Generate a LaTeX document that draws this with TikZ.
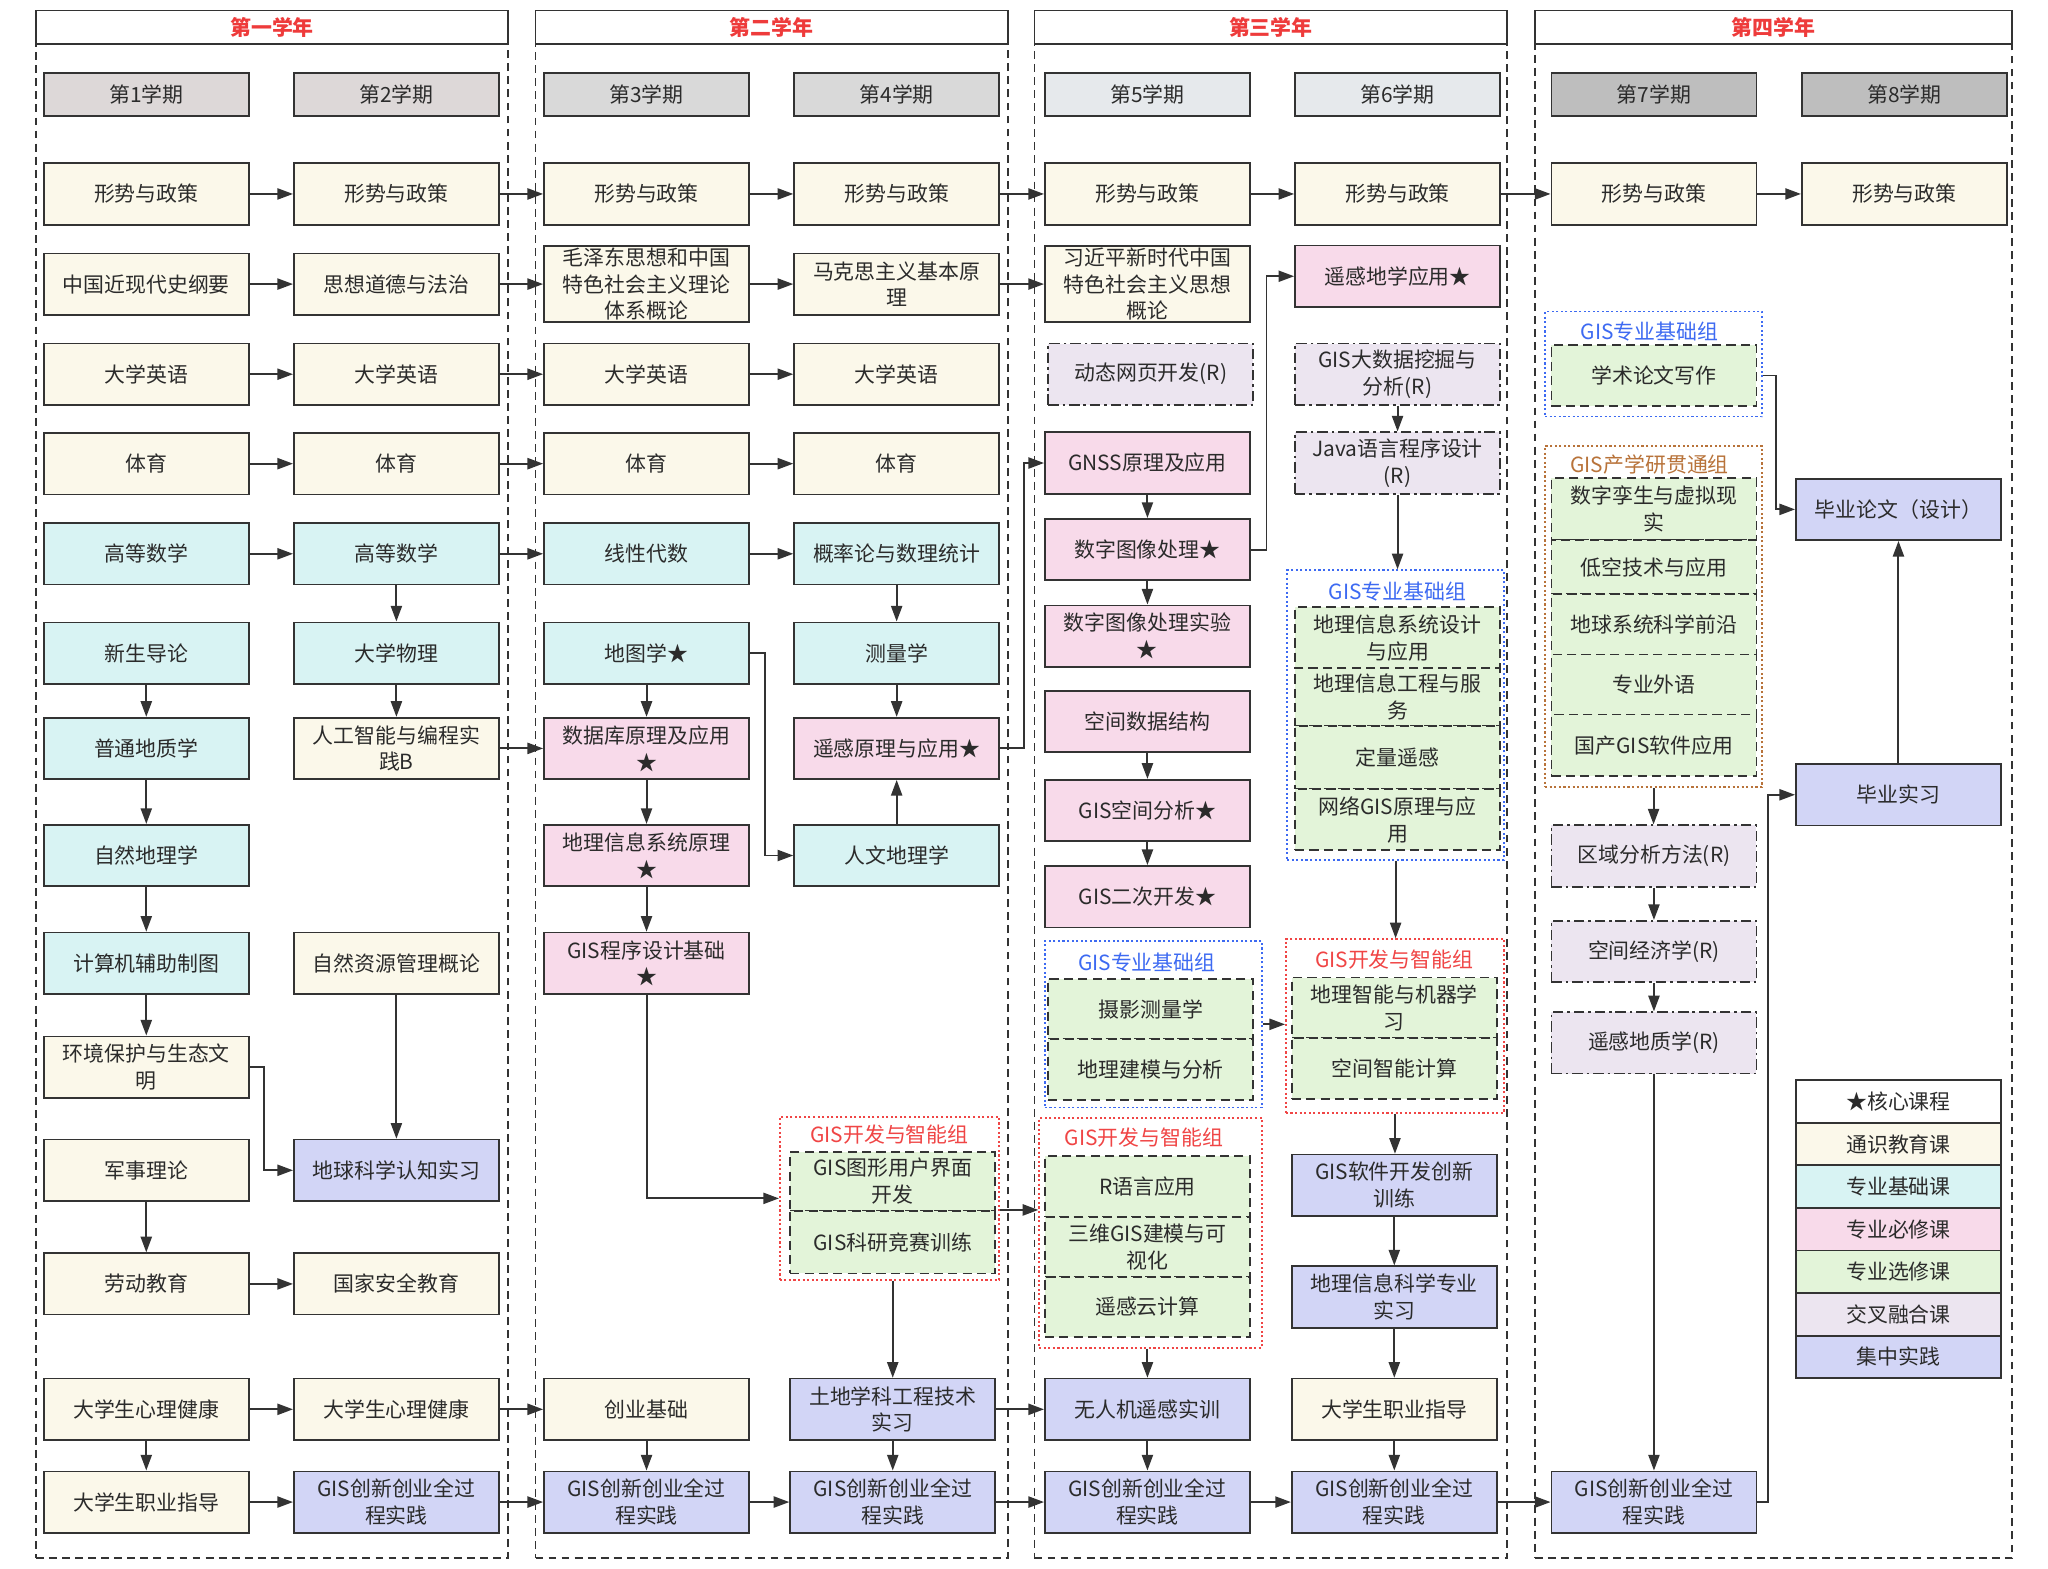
\documentclass[tikz,border=0pt]{standalone}
\usepackage{fontspec}
\setmainfont{Noto Sans CJK SC}
\usetikzlibrary{arrows.meta}
\definecolor{lc}{HTML}{333333}
\definecolor{tc}{HTML}{2B2B2B}
\definecolor{cgen}{HTML}{FBF8EA}
\definecolor{cbase}{HTML}{D8F3F3}
\definecolor{creq}{HTML}{F8DAEA}
\definecolor{cele}{HTML}{E3F4D9}
\definecolor{ccross}{HTML}{ECE5F0}
\definecolor{cprac}{HTML}{D2D5F6}
\definecolor{semA}{HTML}{DDD8D8}
\definecolor{semB}{HTML}{D9D9D9}
\definecolor{semC}{HTML}{E6E9EC}
\definecolor{semD}{HTML}{BEBEBE}
\definecolor{yred}{HTML}{EE3B3B}
\definecolor{gblue}{HTML}{3D6AF2}
\definecolor{gred}{HTML}{F04545}
\definecolor{gorg}{HTML}{B8733A}
\newcommand\myfs{\fontsize{16}{20.5}\selectfont}
\begin{document}
\begin{tikzpicture}[x=1pt,y=-1pt,
 bx/.style={draw=lc, line width=1.3pt, minimum width=157pt, minimum height=47pt, inner sep=0pt, align=center, font=\myfs, text=tc},
 gen/.style={bx, fill=cgen},
 base/.style={bx, fill=cbase},
 req/.style={bx, fill=creq},
 ele/.style={bx, fill=cele, dash pattern=on 7pt off 4pt},
 crs/.style={bx, fill=ccross, dash pattern=on 8pt off 3pt on 2pt off 3pt},
 prac/.style={bx, fill=cprac},
 sem/.style={bx, minimum height=33pt},
 yfr/.style={draw=lc, line width=1.3pt, dash pattern=on 6pt off 4pt, inner sep=0pt},
 yhd/.style={draw=lc, line width=1.3pt, fill=white, minimum height=25.5pt, inner sep=0pt, font=\myfs\bfseries, text=yred},
 grp/.style={line width=1.2pt, dash pattern=on 1.6pt off 1.9pt, inner sep=0pt},
 gtitle/.style={font=\myfs, inner sep=0pt},
 leg/.style={bx, minimum height=32.6pt},
 arr/.style={draw=lc, line width=1.5pt, -{Triangle[length=12pt,width=8.5pt]}},
]
\useasboundingbox (0,0) rectangle (1568,1201);
\fill[white] (0,0) rectangle (1568,1201);

% year frames
\node[yfr, minimum width=361.5pt, minimum height=1185pt] (f1) at (208.25,600.5) {};
\node[yfr, minimum width=361.5pt, minimum height=1185pt] (f2) at (590.75,600.5) {};
\node[yfr, minimum width=362pt, minimum height=1185pt] (f3) at (973,600.5) {};
\node[yfr, minimum width=365.5pt, minimum height=1185pt] (f4) at (1357.75,600.5) {};
\node[yhd, minimum width=361.5pt] (h1) at (208.25,20.75) {第一学年};
\node[yhd, minimum width=361.5pt] (h2) at (590.75,20.75) {第二学年};
\node[yhd, minimum width=362pt] (h3) at (973,20.75) {第三学年};
\node[yhd, minimum width=365.5pt] (h4) at (1357.75,20.75) {第四学年};

% semesters
\node[sem, fill=semA] (s1) at (112,72.5) {第1学期};
\node[sem, fill=semA] (s2) at (303.5,72.5) {第2学期};
\node[sem, fill=semB] (s3) at (495,72.5) {第3学期};
\node[sem, fill=semB] (s4) at (686.5,72.5) {第4学期};
\node[sem, fill=semC] (s5) at (878.5,72.5) {第5学期};
\node[sem, fill=semC] (s6) at (1070,72.5) {第6学期};
\node[sem, fill=semD] (s7) at (1266.3,72.5) {第7学期};
\node[sem, fill=semD] (s8) at (1458,72.5) {第8学期};

% row 1
\node[gen] (xs1) at (112,148.5) {形势与政策};
\node[gen] (xs2) at (303.5,148.5) {形势与政策};
\node[gen] (xs3) at (495,148.5) {形势与政策};
\node[gen] (xs4) at (686.5,148.5) {形势与政策};
\node[gen] (xs5) at (878.5,148.5) {形势与政策};
\node[gen] (xs6) at (1070,148.5) {形势与政策};
\node[gen] (xs7) at (1266.3,148.5) {形势与政策};
\node[gen] (xs8) at (1458,148.5) {形势与政策};

% row 2
\node[gen] (a21) at (112,217.5) {中国近现代史纲要};
\node[gen] (a22) at (303.5,217.5) {思想道德与法治};
\node[gen, minimum height=58pt] (a23) at (495,217.5) {毛泽东思想和中国\\特色社会主义理论\\体系概论};
\node[gen] (a24) at (686.5,217.5) {马克思主义基本原\\理};
\node[gen, minimum height=58pt] (a25) at (878.5,217.5) {习近平新时代中国\\特色社会主义思想\\概论};
\node[req] (ygdx) at (1070,211.5) {遥感地学应用★};

% row 3
\node[gen] (e1) at (112,286.5) {大学英语};
\node[gen] (e2) at (303.5,286.5) {大学英语};
\node[gen] (e3) at (495,286.5) {大学英语};
\node[gen] (e4) at (686.5,286.5) {大学英语};
\node[crs] (dtwy) at (881,286.5) {动态网页开发(R)};
\node[crs] (dsj) at (1070,286.5) {GIS大数据挖掘与\\分析(R)};

% row 4
\node[gen] (t1) at (112,355) {体育};
\node[gen] (t2) at (303.5,355) {体育};
\node[gen] (t3) at (495,355) {体育};
\node[gen] (t4) at (686.5,355) {体育};
\node[req] (gnss) at (878.5,354.5) {GNSS原理及应用};
\node[crs] (java) at (1070,354.5) {Java语言程序设计\\(R)};

% row 5
\node[base] (m1) at (112,424) {高等数学};
\node[base] (m2) at (303.5,424) {高等数学};
\node[base] (m3) at (495,424) {线性代数};
\node[base] (m4) at (686.5,424) {概率论与数理统计};
\node[req] (szt) at (878.5,420.75) {数字图像处理★};

% row 6
\node[base] (xsd) at (112,500) {新生导论};
\node[base] (dxwl) at (303.5,500) {大学物理};
\node[base] (dtx) at (495,500) {地图学★};
\node[base] (clx) at (686.5,500) {测量学};
\node[req] (szsy) at (878.5,487) {数字图像处理实验\\★};

% row 7
\node[base] (ptdz) at (112,573) {普通地质学};
\node[gen] (rgzn) at (303.5,573) {人工智能与编程实\\践B};
\node[req] (sjk) at (495,573) {数据库原理及应用\\★};
\node[req] (ygyl) at (686.5,573) {遥感原理与应用★};
\node[req] (kjsj) at (878.5,552.5) {空间数据结构};

% row 8
\node[base] (zrdl) at (112,655) {自然地理学};
\node[req] (gisyl) at (495,655) {地理信息系统原理\\★};
\node[base] (rwdl) at (686.5,655) {人文地理学};
\node[req] (kjfx) at (878.5,620.5) {GIS空间分析★};

% row 9
\node[base] (jsj) at (112,737.5) {计算机辅助制图};
\node[gen] (zrzy) at (303.5,737.5) {自然资源管理概论};
\node[req] (gcx) at (495,737.5) {GIS程序设计基础\\★};
\node[req] (ecfz) at (878.5,686.5) {GIS二次开发★};

% row 10-12
\node[gen] (hjbh) at (112,817) {环境保护与生态文\\明};
\node[gen] (jsll) at (112,896) {军事理论};
\node[prac] (dqrz) at (303.5,896) {地球科学认知实习};
\node[gen] (ldjy) at (112,983) {劳动教育};
\node[gen] (gjaq) at (303.5,983) {国家安全教育};

% row 13
\node[gen] (xl1) at (112,1079) {大学生心理健康};
\node[gen] (xl2) at (303.5,1079) {大学生心理健康};
\node[gen] (cyjc) at (495,1079) {创业基础};
\node[prac] (td) at (683.5,1079) {土地学科工程技术\\实习};
\node[prac] (wrj) at (878.5,1079) {无人机遥感实训};
\node[gen] (zy6) at (1067.5,1079) {大学生职业指导};

% row 14
\node[gen] (zy1) at (112,1150) {大学生职业指导};
\node[prac] (cx2) at (303.5,1150) {GIS创新创业全过\\程实践};
\node[prac] (cx3) at (495,1150) {GIS创新创业全过\\程实践};
\node[prac] (cx4) at (683.5,1150) {GIS创新创业全过\\程实践};
\node[prac] (cx5) at (878.5,1150) {GIS创新创业全过\\程实践};
\node[prac] (cx6) at (1067.5,1150) {GIS创新创业全过\\程实践};
\node[prac] (cx7) at (1266.3,1150) {GIS创新创业全过\\程实践};

% c4 group
\node[grp, draw=gred, minimum width=168pt, minimum height=125pt] (g4) at (681,917.5) {};
\node[gtitle, text=gred] (g4t) at (681,869) {GIS开发与智能组};
\node[ele, minimum height=45pt] (gui) at (683.5,904.5) {GIS图形用户界面\\开发};
\node[ele, minimum height=48pt] (jsxl) at (683.5,951) {GIS科研竞赛训练};

% c5 groups
\node[grp, draw=gblue, minimum width=166pt, minimum height=127.5pt] (gb5) at (883,784.25) {};
\node[gtitle, text=gblue] (gb5t) at (878,736.6) {GIS专业基础组};
\node[ele, minimum height=46pt] (sycl) at (881,772.5) {摄影测量学};
\node[ele, minimum height=46.5pt] (dljm) at (881,818.75) {地理建模与分析};

\node[grp, draw=gred, minimum width=170.4pt, minimum height=176pt] (gr5) at (880.8,944) {};
\node[gtitle, text=gred] (gr5t) at (876,870.6) {GIS开发与智能组};
\node[ele] (ryy) at (878.5,908.5) {R语言应用};
\node[ele, minimum height=45.5pt] (swgis) at (878.5,954.75) {三维GIS建模与可\\视化};
\node[ele, minimum height=46.2pt] (ygy) at (878.5,1000.6) {遥感云计算};

% c6 groups
\node[grp, draw=gblue, minimum width=166pt, minimum height=222pt] (gb6) at (1068.5,547.5) {};
\node[gtitle, text=gblue] (gb6t) at (1070,453) {GIS专业基础组};
\node[ele] (sjyy) at (1070,488.25) {地理信息系统设计\\与应用};
\node[ele, minimum height=44.3pt] (gcfw) at (1070,533.85) {地理信息工程与服\\务};
\node[ele, minimum height=48pt] (dlyg) at (1070,580) {定量遥感};
\node[ele] (wlgis) at (1070,627.5) {网络GIS原理与应\\用};

\node[grp, draw=gred, minimum width=167pt, minimum height=133pt] (gr6) at (1068,785.5) {};
\node[gtitle, text=gred] (gr6t) at (1067.5,734.5) {GIS开发与智能组};
\node[ele, minimum height=46pt] (jqxx) at (1067.5,771.5) {地理智能与机器学\\习};
\node[ele] (znjs) at (1067.5,818) {空间智能计算};

\node[prac] (rjkf) at (1067.5,907.5) {GIS软件开发创新\\训练};
\node[prac] (zysx) at (1067.5,993) {地理信息科学专业\\实习};

% c7 groups
\node[grp, draw=gblue, minimum width=166pt, minimum height=80.5pt] (gb7) at (1266,278.75) {};
\node[gtitle, text=gblue] (gb7t) at (1263,254) {GIS专业基础组};
\node[ele] (xslw) at (1266.3,287.5) {学术论文写作};

\node[grp, draw=gorg, minimum width=166pt, minimum height=261.3pt] (go7) at (1266,472) {};
\node[gtitle, text=gorg] (go7t) at (1263,356) {GIS产学研贯通组};
\node[ele, minimum height=47.6pt] (szls) at (1266.3,389.8) {数字孪生与虚拟现\\实};
\node[ele, minimum height=41.2pt] (dkjs) at (1266.3,434.2) {低空技术与应用};
\node[ele, minimum height=46.2pt] (dqxt) at (1266.3,477.9) {地球系统科学前沿};
\node[ele, minimum height=46pt] (zywy) at (1266.3,524) {专业外语};
\node[ele, minimum height=47.3pt] (gcgis) at (1266.3,570.65) {国产GIS软件应用};

\node[crs] (qyfx) at (1266.3,655.35) {区域分析方法(R)};
\node[crs] (kjjj) at (1266.3,728.5) {空间经济学(R)};
\node[crs] (ygdz) at (1266.3,798.5) {遥感地质学(R)};

% c8
\node[prac] (bylw) at (1453.5,390) {毕业论文（设计）};
\node[prac] (bysx) at (1453.5,608.5) {毕业实习};

% legend
\node[leg, fill=white] (l1) at (1453.5,843.3) {★核心课程};
\node[leg, fill=cgen] (l2) at (1453.5,875.9) {通识教育课};
\node[leg, fill=cbase] (l3) at (1453.5,908.5) {专业基础课};
\node[leg, fill=creq] (l4) at (1453.5,941.1) {专业必修课};
\node[leg, fill=cele] (l5) at (1453.5,973.7) {专业选修课};
\node[leg, fill=ccross] (l6) at (1453.5,1006.3) {交叉融合课};
\node[leg, fill=cprac] (l7) at (1453.5,1038.9) {集中实践};

% connectors
\draw[arr] (xs1) -- (xs2);
\draw[arr] (xs2) -- (xs3);
\draw[arr] (xs3) -- (xs4);
\draw[arr] (xs4) -- (xs5);
\draw[arr] (xs5) -- (xs6);
\draw[arr] (xs6) -- (xs7);
\draw[arr] (xs7) -- (xs8);
\draw[arr] (a21) -- (a22);
\draw[arr] (a22) -- (a23);
\draw[arr] (a23) -- (a24);
\draw[arr] (a24) -- (a25);
\draw[arr] (e1) -- (e2);
\draw[arr] (e2) -- (e3);
\draw[arr] (e3) -- (e4);
\draw[arr] (t1) -- (t2);
\draw[arr] (t2) -- (t3);
\draw[arr] (t3) -- (t4);
\draw[arr] (m1) -- (m2);
\draw[arr] (m2) -- (m3);
\draw[arr] (m3) -- (m4);

\draw[arr] (xsd) -- (ptdz);
\draw[arr] (ptdz) -- (zrdl);
\draw[arr] (zrdl) -- (jsj);
\draw[arr] (jsj) -- (hjbh);
\draw[arr] (hjbh.east) -- ++(11,0) |- (dqrz.west);
\draw[arr] (zrzy) -- (dqrz);
\draw[arr] (jsll) -- (ldjy);
\draw[arr] (ldjy) -- (gjaq);
\draw[arr] (xl1) -- (xl2);
\draw[arr] (xl2) -- (cyjc);
\draw[arr] (xl1) -- (zy1);
\draw[arr] (zy1) -- (cx2);
\draw[arr] (cx2) -- (cx3);
\draw[arr] (cx3) -- (cx4);
\draw[arr] (cx4) -- (cx5);
\draw[arr] (cx5) -- (cx6);
\draw[arr] (cx6) -- (cx7);

\draw[arr] (m2) -- (dxwl);
\draw[arr] (dxwl) -- (rgzn);
\draw[arr] (rgzn) -- (sjk);

\draw[arr] (dtx) -- (sjk);
\draw[arr] (sjk) -- (gisyl);
\draw[arr] (gisyl) -- (gcx);
\draw[arr] (dtx.east) -- ++(11.5,0) |- (rwdl.west);
\draw[arr] (gcx.south) |- (g4.west);
\draw[arr] (m4) -- (clx);
\draw[arr] (clx) -- (ygyl);
\draw[arr] (rwdl) -- (ygyl);
\draw[arr] (cyjc) -- (cx3);
\draw[arr] (td.north |- g4.south) -- (td.north);
\draw[arr] (td) -- (cx4);
\draw[arr] (td) -- (wrj);
\draw[arr] (g4.east |- jsxl.north) -- (gr5.west |- jsxl.north);

\draw[arr] (ygyl.east) -- ++(18,0) |- (gnss.west);
\draw[arr] (gnss) -- (szt);
\draw[arr] (szt) -- (szsy);
\draw[arr] (szt.east) -- ++(12,0) |- (ygdx.west);
\draw[arr] (kjsj) -- (kjfx);
\draw[arr] (kjfx) -- (ecfz);
\draw[arr] (gb5.east) -- (gr6.west |- gb5.east);
\draw[arr] (wrj.north |- gr5.south) -- (wrj.north);
\draw[arr] (wrj) -- (cx5);

\draw[arr] (dsj) -- (java);
\draw[arr] (java.south) -- (java.south |- gb6.north);
\draw[arr] (gb6.south) -- (gb6.south |- gr6.north);
\draw[arr] (gr6.south) -- (gr6.south |- rjkf.north);
\draw[arr] (rjkf) -- (zysx);
\draw[arr] (zysx) -- (zy6);
\draw[arr] (zy6) -- (cx6);

\draw[arr] (gb7.east |- xslw.east) -- ++(10,0) |- (bylw.west);
\draw[arr] (go7.south) -- (go7.south |- qyfx.north);
\draw[arr] (qyfx) -- (kjjj);
\draw[arr] (kjjj) -- (ygdz);
\draw[arr] (ygdz.south) -- (ygdz.south |- cx7.north);
\draw[arr] (cx7.east) -- ++(8.5,0) |- (bysx.west);
\draw[arr] (bysx) -- (bylw);
\end{tikzpicture}
\end{document}
